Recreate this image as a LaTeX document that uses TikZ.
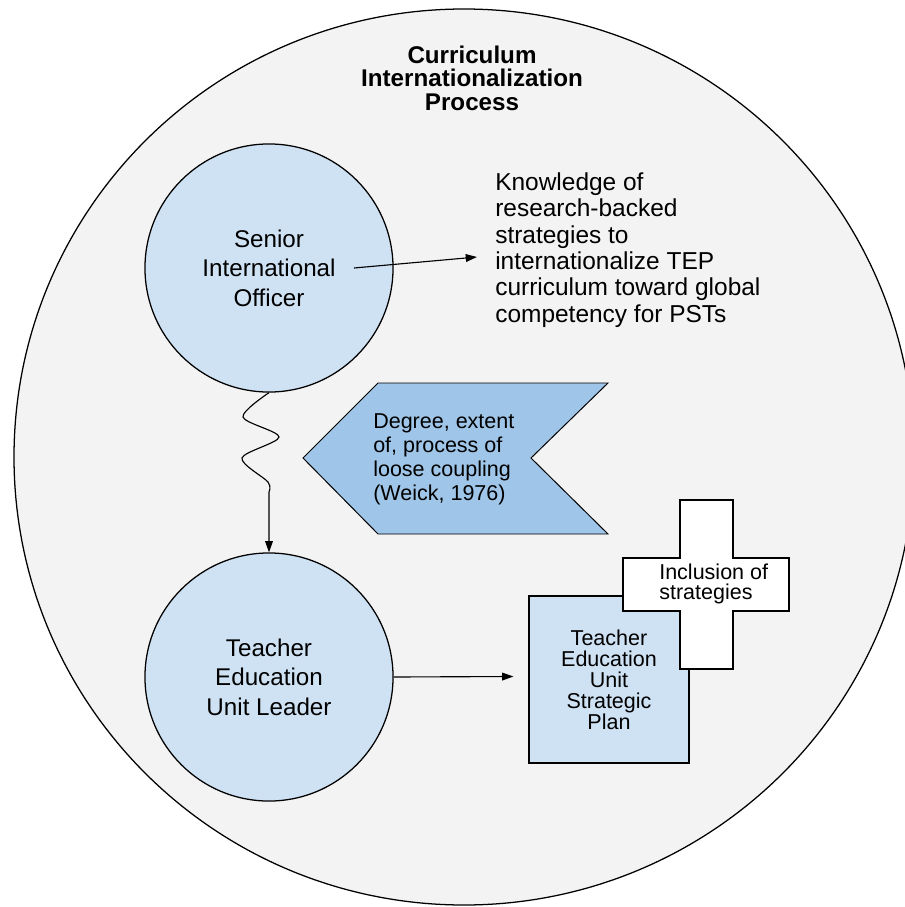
\documentclass[tikz,border=0pt]{standalone}
\usepackage{fontspec}
\setmainfont{Liberation Sans}
\usetikzlibrary{arrows.meta,calc}
\definecolor{bggray}{HTML}{F3F3F3}
\definecolor{paleblue}{HTML}{CFE2F3}
\definecolor{midblue}{HTML}{9FC5E8}
\begin{document}
\begin{tikzpicture}[x=0.025cm, y=-0.025cm,
		role/.style={circle, draw, line width=0.9pt, fill=paleblue, minimum size=6.2cm, inner sep=0pt, align=center, font=\fontsize{17.2}{21}\selectfont},
		note/.style={inner sep=0pt, align=left, font=\fontsize{17.4}{18.8}\selectfont},
		smalltxt/.style={inner sep=0pt, font=\fontsize{15.3}{#1}\selectfont},
		arr/.style={-{Triangle[length=8pt,width=5.5pt]}, line width=0.8pt}]
		\clip (0, 0) rectangle (905, 907);
		\draw[fill=bggray, line width=0.9pt] (464, 457) ellipse [x radius=450, y radius=448];
		\node[align=center, inner sep=0pt, font=\fontsize{17.2}{16.7}\selectfont\bfseries] (title) at (472, 78) {Curriculum\\Internationalization\\Process};
		% the two roles
		\node[role] (so) at (269, 268) {Senior\\International\\Officer};
		\node[role] (tl) at (269, 677) {Teacher\\Education\\Unit Leader};
		\node[note, anchor=west] (know) at (495, 250) {Knowledge of\\research-backed\\strategies to\\internationalize TEP\\curriculum toward global\\competency for PSTs};
		\draw[arr] ($(so.center)+(85, 0)$) -- ($(know.west)+(-18, 7)$);
		% loose coupling
		\draw[arr] plot[smooth] coordinates {(so.south) (243, 417) (279, 437) (242, 458) (268, 482) (269, 492)} -- (tl.north);
		\draw[fill=midblue, line width=0.7pt] (378, 383) -- (608, 383) -- (531, 458) -- (608, 534) -- (378, 534) -- (303, 458) -- cycle;
		\node[smalltxt=17, align=left, anchor=west] (coup) at (373, 459) {Degree, extent\\of, process of\\loose coupling\\(Weick, 1976)};
		% strategic plan
		\node[smalltxt=14.9, draw, line width=0.8pt, fill=paleblue, align=center, minimum width=4cm, minimum height=4.175cm] (plan) at (609, 679.5) {Teacher\\Education\\Unit\\Strategic\\Plan};
		\draw[arr] (tl.east) -- ($(plan.west)+(-15, -3)$);
		\draw[fill=white, line width=0.8pt] (680, 500) -- (733, 500) -- (733, 558) -- (789, 558) -- (789, 611) -- (733, 611) -- (733, 669) -- (680, 669) -- (680, 611) -- (623, 611) -- (623, 558) -- (680, 558) -- cycle;
		\node[smalltxt=14.2, align=left, anchor=west] (incl) at (659, 584) {Inclusion of\\strategies};
	\end{tikzpicture}
\end{document}
